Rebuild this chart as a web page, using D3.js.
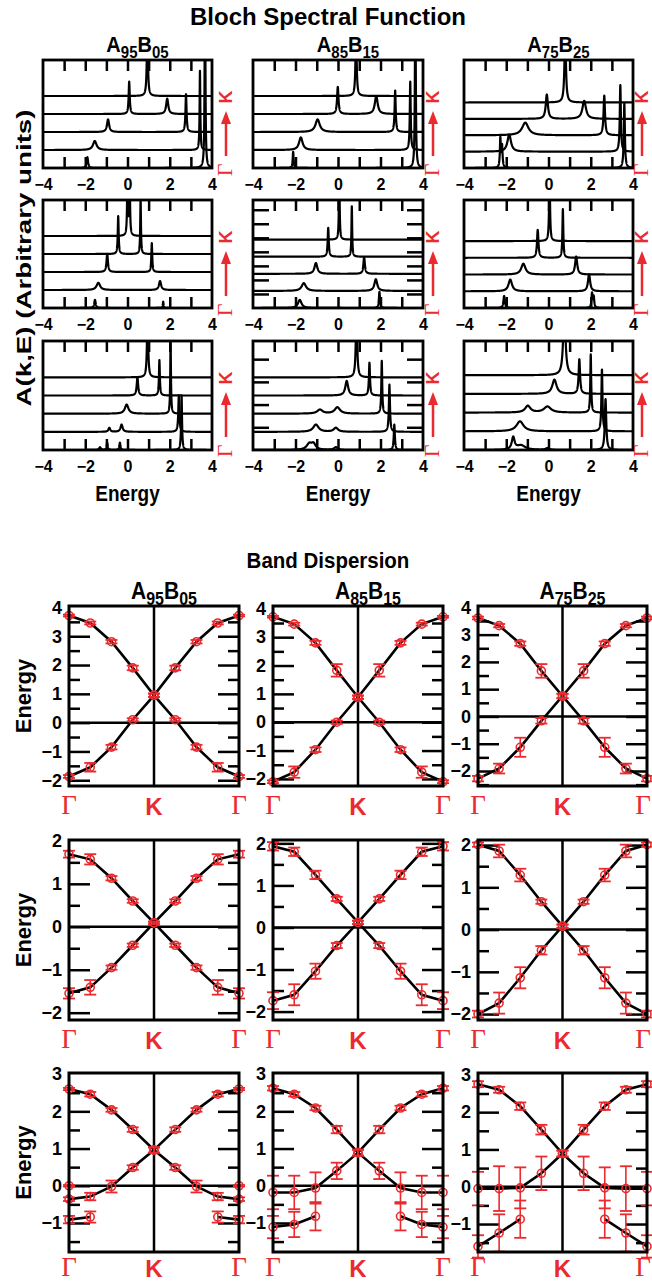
<!DOCTYPE html>
<html>
<head>
<meta charset="utf-8">
<script src="https://cdn.jsdelivr.net/npm/d3@7"></script>
<style>
  body { margin: 0; background: #fff; }
</style>
</head>
<body>
<div id="main"></div>
<script>
const FONT = "'Liberation Sans', Arial, Helvetica, sans-serif";
const SERIF = "'Liberation Serif', 'Times New Roman', serif";
const RED = "#ea2a2e";

// ---- data ----
const alloys = [["95", "05"], ["85", "15"], ["75", "25"]];
const energyTicks = [-4, -2, 0, 2, 4];

// Bloch spectral function: per row, 5 curves from Γ (bottom) to K (top)
// each peak = [energy, height (arb. units), half width]
const specA95B05 = [
  [
    [[-1.9, 0.6, 0.04], [3.67, 12, 0.02]],
    [[-1.55, 0.5, 0.1], [3.43, 4.4, 0.02]],
    [[-0.92, 0.7, 0.06], [2.77, 2.1, 0.03]],
    [[0.08, 1.8, 0.03], [1.88, 0.85, 0.06]],
    [[0.94, 4, 0.03]]
  ],
  [
    [[-1.54, 0.45, 0.04], [1.69, 0.35, 0.02]],
    [[-1.38, 0.4, 0.1], [1.54, 0.5, 0.06]],
    [[-0.96, 1.0, 0.04], [1.15, 1.6, 0.025]],
    [[-0.44, 2.1, 0.025], [0.62, 3.1, 0.02]],
    [[0.0, 4, 0.02], [0.1, 4, 0.02]]
  ],
  [
    [[-1.3, 0.15, 0.05], [-0.96, 0.4, 0.03], [-0.36, 0.4, 0.03], [2.56, 3.0, 0.025]],
    [[-0.86, 0.22, 0.05], [-0.28, 0.4, 0.06], [2.43, 2.0, 0.03]],
    [[-0.04, 0.5, 0.1], [2.04, 4, 0.02]],
    [[0.47, 1.0, 0.04], [1.51, 1.95, 0.025]],
    [[0.95, 4, 0.03]]
  ]
];
const specA85B15 = [
  [
    [[-2.11, 0.9, 0.025], [3.64, 12, 0.02]],
    [[-1.75, 0.7, 0.1], [3.4, 3.8, 0.025]],
    [[-0.96, 0.7, 0.12], [2.69, 2.3, 0.03]],
    [[-0.01, 1.5, 0.04], [1.8, 1.0, 0.08]],
    [[0.85, 4, 0.03]]
  ],
  [
    [[-1.8, 0.45, 0.1], [1.95, 0.9, 0.03]],
    [[-1.61, 0.43, 0.12], [1.78, 0.65, 0.08]],
    [[-1.04, 0.6, 0.08], [1.23, 0.93, 0.04]],
    [[-0.46, 1.6, 0.03], [0.65, 2.8, 0.02]],
    [[0.06, 4, 0.02]]
  ],
  [
    [[-1.35, 0.33, 0.15], [-1.15, 0.3, 0.12], [-0.1, 0.15, 0.1], [2.65, 1.4, 0.03]],
    [[-1.04, 0.4, 0.15], [-0.1, 0.22, 0.12], [2.42, 2.6, 0.03]],
    [[-0.85, 0.22, 0.15], [-0.03, 0.35, 0.15], [2.06, 2.9, 0.025]],
    [[0.41, 0.8, 0.08], [1.48, 1.8, 0.03]],
    [[0.87, 4, 0.035]]
  ]
];
const specA75B25 = [
  [
    [[-2.28, 1.6, 0.025], [-2.2, 1.2, 0.03], [3.59, 3.6, 0.03]],
    [[-1.86, 0.95, 0.1], [3.4, 3.7, 0.03]],
    [[-1.1, 0.7, 0.18], [2.64, 2.2, 0.04]],
    [[-0.08, 1.35, 0.06], [1.69, 1.0, 0.1]],
    [[0.79, 4, 0.04]]
  ],
  [
    [[-2.1, 0.67, 0.04], [2.06, 0.8, 0.03], [2.14, 0.6, 0.03]],
    [[-1.81, 0.65, 0.1], [1.92, 0.95, 0.06]],
    [[-1.19, 0.6, 0.12], [1.31, 1.0, 0.06]],
    [[-0.51, 1.55, 0.04], [0.68, 2.7, 0.025]],
    [[0.05, 4, 0.025]]
  ],
  [
    [[-1.67, 0.67, 0.08], [-1.3, 0.25, 0.25], [-0.05, 0.1, 0.1], [2.7, 2.8, 0.04]],
    [[-1.35, 0.55, 0.2], [2.53, 3.4, 0.03]],
    [[-0.98, 0.37, 0.15], [-0.05, 0.33, 0.2], [2.0, 3.2, 0.025]],
    [[0.28, 0.78, 0.12], [1.46, 1.9, 0.04]],
    [[0.75, 4, 0.06]]
  ]
];
// offset between stacked curves [row][col]
const specOffset = [[1, 1, 0.91], [1, 0.95, 0.93], [1, 1, 1.03]];

// Band dispersion, path Γ -> K (mirrored K -> Γ); e = energy, err = error bar half size
const kLabels = ["Γ", "K", "Γ"];
const bandTicks = [[-2, -1, 0, 1, 2, 3, 4], [-2, -1, 0, 1, 2], [-1, 0, 1, 2, 3]];
const bandDomain = [
  [[-2.2, 4.05], [-2.25, 4.1], [-2.55, 4.05]],
  [[-2.17, 2.02], [-2.2, 2.08], [-2.14, 2.12]],
  [[-1.78, 3.03], [-1.78, 3.03], [-1.75, 3.05]]
];
const bandA95B05 = [
  [
    { e: [3.72, 3.46, 2.81, 1.90, 0.95], err: [0.03, 0.05, 0.06, 0.08, 0.06] },
    { e: [-1.87, -1.55, -0.85, 0.10, 0.95], err: [0.05, 0.15, 0.08, 0.05, 0.06] }
  ],
  [
    { e: [1.69, 1.57, 1.13, 0.60, 0.09], err: [0.08, 0.12, 0.05, 0.04, 0.03] },
    { e: [-1.55, -1.41, -0.95, -0.43, 0.09], err: [0.12, 0.17, 0.05, 0.04, 0.03] }
  ],
  [
    { e: [2.60, 2.46, 2.04, 1.51, 0.96], err: [0.03, 0.06, 0.05, 0.06, 0.07] },
    { e: [-0.36, -0.29, -0.02, 0.49, 0.96], err: [0.05, 0.1, 0.16, 0.06, 0.07] },
    { e: [-0.91, -0.84, null, null, null], err: [0.1, 0.15, 0, 0, 0] },
    { e: [0.0, null, null, null, null], err: [0.02, 0, 0, 0, 0] }
  ]
];
const bandA85B15 = [
  [
    { e: [3.72, 3.46, 2.80, 1.83, 0.88], err: [0.03, 0.05, 0.07, 0.22, 0.06] },
    { e: [-2.10, -1.76, -0.97, 0.0, 0.88], err: [0.05, 0.2, 0.08, 0.06, 0.06] }
  ],
  [
    { e: [1.93, 1.80, 1.25, 0.68, 0.12], err: [0.1, 0.1, 0.1, 0.05, 0.04] },
    { e: [-1.74, -1.60, -1.04, -0.43, 0.12], err: [0.2, 0.25, 0.18, 0.06, 0.04] }
  ],
  [
    { e: [2.62, 2.46, 2.09, 1.51, 0.89], err: [0.06, 0.06, 0.06, 0.1, 0.08] },
    { e: [-0.18, -0.18, -0.06, 0.40, 0.89], err: [0.45, 0.45, 0.42, 0.22, 0.08] },
    { e: [-1.11, -1.04, -0.82, null, null], err: [0.3, 0.34, 0.38, 0, 0] }
  ]
];
const bandA75B25 = [
  [
    { e: [3.61, 3.33, 2.67, 1.67, 0.75], err: [0.05, 0.06, 0.08, 0.25, 0.08] },
    { e: [-2.28, -1.91, -1.13, -0.16, 0.75], err: [0.1, 0.18, 0.35, 0.1, 0.08] }
  ],
  [
    { e: [2.01, 1.86, 1.29, 0.66, 0.08], err: [0.05, 0.15, 0.15, 0.05, 0.04] },
    { e: [-2.0, -1.74, -1.14, -0.49, 0.08], err: [0.08, 0.25, 0.25, 0.1, 0.04] }
  ],
  [
    { e: [2.75, 2.60, 2.16, 1.53, 0.89], err: [0.08, 0.08, 0.1, 0.13, 0.08] },
    { e: [-0.05, -0.05, -0.03, 0.36, 0.89], err: [0.45, 0.6, 0.55, 0.45, 0.08] },
    { e: [-1.6, -1.24, -0.87, null, null], err: [0.3, 0.5, 0.5, 0, 0] }
  ]
];

// ---- layout ----
const W = 652, H = 1283;
const specCols = [[43, 212], [253, 423], [464, 633]];
const specRows = [[60, 168], [200, 308], [341, 450]];
const arrowGap = [14, 10, 9];
const bandCols = [[69, 239], [273, 443], [478, 647]];
const bandRows = [[606, 786], [840, 1020], [1073, 1252]];
const kLabelDrop = [28, 28, 24];

const svg = d3.select("#main").append("svg")
  .attr("width", W).attr("height", H);
svg.append("rect").attr("width", W).attr("height", H).attr("fill", "#fff");
const defs = svg.append("defs");

// text helper; sy stretches glyphs vertically like the original figure
function label(x, y, str, size, opts = {}) {
  return svg.append("text")
    .attr("transform", `translate(${x},${y})` + (opts.rot ? ` rotate(${opts.rot})` : "") +
      (opts.sy ? ` scale(1,${opts.sy})` : ""))
    .attr("text-anchor", opts.anchor || "middle")
    .attr("font-family", opts.family || FONT)
    .attr("font-weight", opts.weight || "bold")
    .attr("font-size", size)
    .attr("fill", opts.fill || "#000")
    .text(str);
}

function alloyLabel(x, y, pair, size) {
  const t = svg.append("text")
    .attr("transform", `translate(${x},${y}) scale(1,1.1)`)
    .attr("text-anchor", "middle")
    .attr("font-family", FONT).attr("font-weight", "bold")
    .attr("font-size", size);
  const sub = Math.round(size * 0.75), dy = Math.round(size * 0.25);
  t.append("tspan").text("A");
  t.append("tspan").attr("font-size", sub).attr("dy", dy).text(pair[0]);
  t.append("tspan").attr("dy", -dy).text("B");
  t.append("tspan").attr("font-size", sub).attr("dy", dy).text(pair[1]);
}

function styleAxis(g, size) {
  g.select(".domain").remove();
  g.attr("font-family", FONT).attr("font-weight", "bold").attr("font-size", size);
  g.selectAll("line").attr("stroke", "#000").attr("stroke-width", 2.5);
  g.selectAll("text").attr("fill", "#000");
}

// ===== Bloch spectral function =====
label(328, 25, "Bloch Spectral Function", 24);
label(31, 258, "A(k,E)  (Arbitrary units)", 20, { rot: -90 })
  .attr("textLength", 297).attr("lengthAdjust", "spacingAndGlyphs");

const specData = [specA95B05, specA85B15, specA75B25];
const specSideTicks = [null, d3.range(0.78, 6, 0.78), d3.range(1.25, 6, 1.25)];

specCols.forEach((cx, c) => {
  alloyLabel((cx[0] + cx[1]) / 2 + 10, 52, alloys[c], 20);
  label((cx[0] + cx[1]) / 2, 501, "Energy", 19, { sy: 1.15 });

  specRows.forEach((ry, r) => {
    const x = d3.scaleLinear().domain([-4, 4]).range(cx);
    const y = d3.scaleLinear().domain([0, 6]).range([ry[1], ry[0]]);
    const id = `clipS${r}${c}`;
    defs.append("clipPath").attr("id", id).append("rect")
      .attr("x", cx[0]).attr("y", ry[0])
      .attr("width", cx[1] - cx[0]).attr("height", ry[1] - ry[0]);

    const gC = svg.append("g").attr("clip-path", `url(#${id})`);
    const line = d3.line().x(d => x(d[0])).y(d => y(d[1]));
    specData[c][r].forEach((peaks, k) => {
      const grid = d3.range(-4, 4.0001, 0.004).concat(peaks.map(p => p[0])).sort(d3.ascending);
      const pts = grid.map(e => [e, k * specOffset[r][c] +
        d3.sum(peaks, p => p[1] * p[2] * p[2] / ((e - p[0]) ** 2 + p[2] * p[2]))]);
      gC.append("path").datum(pts)
        .attr("d", line)
        .attr("fill", "none").attr("stroke", "#000")
        .attr("stroke-width", 2.2).attr("stroke-linejoin", "round");
    });

    // inward ticks top and bottom
    svg.append("g").attr("transform", `translate(0,${ry[0]})`)
      .call(d3.axisBottom(x).tickValues(d3.range(-3, 4)).tickSize(11).tickFormat(""))
      .call(g => styleAxis(g, 10));
    svg.append("g").attr("transform", `translate(0,${ry[1]})`)
      .call(d3.axisTop(x).tickValues(d3.range(-3, 4)).tickSize(11).tickFormat(""))
      .call(g => styleAxis(g, 10));
    if (specSideTicks[r] && c === 1) {
      svg.append("g").attr("transform", `translate(${cx[0]},0)`)
        .call(d3.axisRight(y).tickValues(specSideTicks[r]).tickSize(16).tickFormat(""))
        .call(g => styleAxis(g, 10));
      svg.append("g").attr("transform", `translate(${cx[1]},0)`)
        .call(d3.axisLeft(y).tickValues(specSideTicks[r]).tickSize(16).tickFormat(""))
        .call(g => styleAxis(g, 10));
    }
    // tick labels
    svg.append("g").attr("transform", `translate(0,${ry[1]})`)
      .call(d3.axisBottom(x).tickValues(energyTicks).tickSize(0).tickPadding(11).tickFormat(d3.format("d")))
      .call(g => styleAxis(g, 16));

    svg.append("rect")
      .attr("x", cx[0]).attr("y", ry[0])
      .attr("width", cx[1] - cx[0]).attr("height", ry[1] - ry[0])
      .attr("fill", "none").attr("stroke", "#000").attr("stroke-width", 2.8);

    // Γ -> K arrow
    const ax = cx[1] + arrowGap[c];
    svg.append("line")
      .attr("x1", ax).attr("x2", ax)
      .attr("y1", ry[0] + 96).attr("y2", ry[0] + 62)
      .attr("stroke", RED).attr("stroke-width", 2.5);
    svg.append("path")
      .attr("d", `M${ax - 5},${ry[0] + 64} L${ax},${ry[0] + 51} L${ax + 5},${ry[0] + 64} Z`)
      .attr("fill", RED);
    label(ax + 6, ry[0] + 37, "K", 18, { rot: -90, fill: RED });
    label(ax + 6, ry[0] + 110, "Γ", 22, { rot: -90, fill: RED, family: SERIF, weight: "normal" });
  });
});

// ===== Band dispersion =====
label(328, 568, "Band Dispersion", 20.5, { sy: 1.1 });
const bandData = [bandA95B05, bandA85B15, bandA75B25];
const mirror = a => a.concat(a.slice(0, 4).reverse());

bandRows.forEach((ry, r) => {
  label(31, (ry[0] + ry[1]) / 2, "Energy", 22, { rot: -90 });
  bandCols.forEach((cx, c) => {
    if (r === 0) alloyLabel((cx[0] + cx[1]) / 2 + 10, 599, alloys[c], 21);
    const x = d3.scaleLinear().domain([0, 8]).range(cx);
    const y = d3.scaleLinear().domain(bandDomain[r][c]).range([ry[1], ry[0]]);
    const minor = d3.range(Math.ceil(bandDomain[r][c][0] * 2) / 2, bandDomain[r][c][1], 0.5)
      .filter(v => !Number.isInteger(v));
    const major = bandTicks[r].filter(v => y(v) > ry[0] + 3 && y(v) < ry[1] - 3);

    // ticks on both sides
    [[d3.axisRight, cx[0]], [d3.axisLeft, cx[1]]].forEach(([ax, px]) => {
      svg.append("g").attr("transform", `translate(${px},0)`)
        .call(ax(y).tickValues(major).tickSize(21).tickFormat(""))
        .call(g => styleAxis(g, 10));
      svg.append("g").attr("transform", `translate(${px},0)`)
        .call(ax(y).tickValues(minor).tickSize(11).tickFormat(""))
        .call(g => styleAxis(g, 10));
    });
    svg.append("g").attr("transform", `translate(${cx[0]},0)`)
      .call(d3.axisLeft(y).tickValues(bandTicks[r]).tickSize(0).tickPadding(7).tickFormat(d3.format("d")))
      .call(g => styleAxis(g, 18));

    // zero line and K line
    svg.append("line").attr("x1", cx[0]).attr("x2", cx[1]).attr("y1", y(0)).attr("y2", y(0))
      .attr("stroke", "#000").attr("stroke-width", 2.5);
    svg.append("line").attr("x1", x(4)).attr("x2", x(4)).attr("y1", ry[0]).attr("y2", ry[1])
      .attr("stroke", "#000").attr("stroke-width", 2.5);

    const bands = bandData[c][r].map(b => {
      const e = mirror(b.e), err = mirror(b.err);
      return e.map((v, i) => ({ k: i, e: v, err: err[i] }));
    });
    const line = d3.line().defined(d => d.e != null).x(d => x(d.k)).y(d => y(d.e));
    bands.forEach(pts => {
      svg.append("path").datum(pts).attr("d", line)
        .attr("fill", "none").attr("stroke", "#000").attr("stroke-width", 2.6);
    });
    bands.forEach(pts => {
      const g = svg.append("g");
      const p = pts.filter(d => d.e != null);
      g.selectAll("line.eb").data(p).join("line")
        .attr("x1", d => x(d.k)).attr("x2", d => x(d.k))
        .attr("y1", d => y(d.e - d.err)).attr("y2", d => y(d.e + d.err))
        .attr("stroke", RED).attr("stroke-width", 1.6);
      [-1, 1].forEach(s => {
        g.selectAll(null).data(p).join("line")
          .attr("x1", d => x(d.k) - 6).attr("x2", d => x(d.k) + 6)
          .attr("y1", d => y(d.e + s * d.err)).attr("y2", d => y(d.e + s * d.err))
          .attr("stroke", RED).attr("stroke-width", 1.8);
      });
      g.selectAll("circle").data(p).join("circle")
        .attr("cx", d => x(d.k)).attr("cy", d => y(d.e)).attr("r", 4)
        .attr("fill", "none").attr("stroke", RED).attr("stroke-width", 1.6);
    });

    svg.append("rect")
      .attr("x", cx[0]).attr("y", ry[0])
      .attr("width", cx[1] - cx[0]).attr("height", ry[1] - ry[0])
      .attr("fill", "none").attr("stroke", "#000").attr("stroke-width", 3);

    // Γ K Γ labels
    [0, 4, 8].forEach((k, i) => {
      const lx = Math.min(x(k), W - 9);
      const ly = ry[1] + kLabelDrop[r];
      if (kLabels[i] === "K") label(lx, ly + 1, "K", 24, { fill: RED });
      else label(lx, ly, "Γ", 27, { fill: RED, family: SERIF, weight: "normal" });
    });
  });
});
</script>
</body>
</html>
